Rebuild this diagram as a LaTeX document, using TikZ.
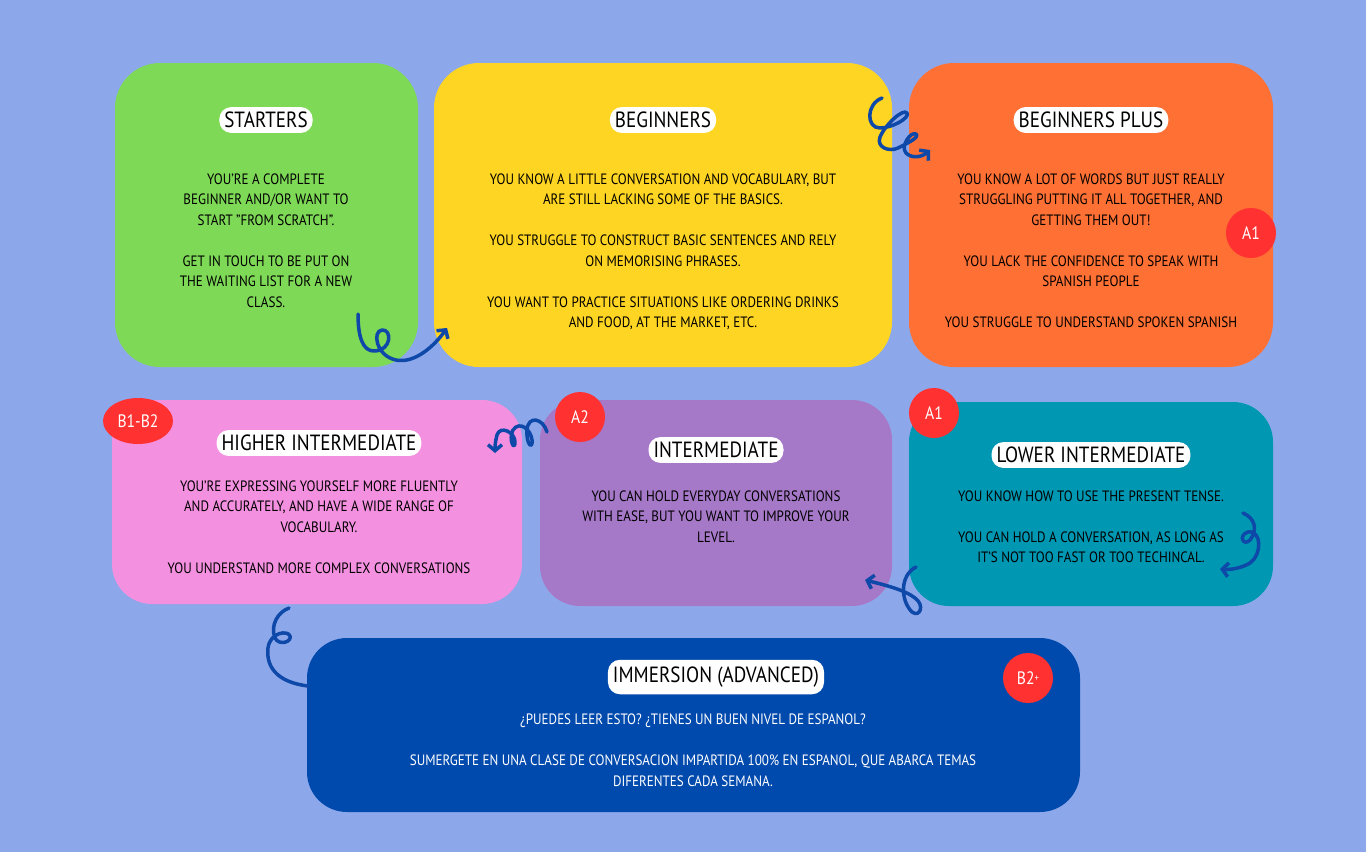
\documentclass[tikz,border=0pt]{standalone}
\usepackage{fontspec}
\setmainfont{PT Sans}[FakeStretch=0.87]
\usepackage{tikz}
\usetikzlibrary{shapes.geometric, arrows.meta, positioning}
\definecolor{pagebg}{RGB}{141,168,234}
\definecolor{startgreen}{RGB}{126,217,87}
\definecolor{beginyellow}{RGB}{255,213,35}
\definecolor{plusorange}{RGB}{255,112,52}
\definecolor{higherpink}{RGB}{244,144,224}
\definecolor{interpurple}{RGB}{166,120,200}
\definecolor{lowerteal}{RGB}{0,151,178}
\definecolor{immersionblue}{RGB}{0,74,173}
\definecolor{badgered}{RGB}{255,49,49}
\definecolor{curlblue}{RGB}{14,72,168}
\tikzstyle{card} = [rectangle, rounded corners=45pt, draw=none]
\tikzstyle{heading} = [rectangle, rounded corners=12pt, fill=white, text=black, inner xsep=5pt, inner ysep=5pt, font=\fontsize{22}{24}\selectfont]
\tikzstyle{blurb} = [align=center, inner sep=0pt, font=\fontsize{15}{20.5}\selectfont]
\tikzstyle{badge} = [circle, fill=badgered, text=white, minimum size=50pt, inner sep=0pt, font=\fontsize{18}{18}\selectfont]
\tikzstyle{curl} = [draw=curlblue, line width=3.5pt, line cap=round, line join=round]
\tikzstyle{arrow} = [curl, -{Straight Barb[length=6pt, width=14pt]}]

\begin{document}
\begin{tikzpicture}[x=1pt, y=-1pt]
    \useasboundingbox (0,0) rectangle (1366,852);
    \fill [pagebg] (0,0) rectangle (1366,852);

    % Cards
    \node (starters) [card, fill=startgreen, minimum width=303pt, minimum height=304pt] at (266.5,215) {};
    \node (beginners) [card, fill=beginyellow, minimum width=458pt, minimum height=304pt] at (663,215) {};
    \node (plus) [card, fill=plusorange, minimum width=364pt, minimum height=304pt] at (1091,215) {};
    \node (higher) [card, rounded corners=40pt, fill=higherpink, minimum width=410pt, minimum height=204pt] at (317,502) {};
    \node (inter) [card, rounded corners=40pt, fill=interpurple, minimum width=352pt, minimum height=206pt] at (716,503) {};
    \node (lower) [card, rounded corners=40pt, fill=lowerteal, minimum width=364pt, minimum height=204pt] at (1091,504) {};
    \node (immersion) [card, rounded corners=40pt, fill=immersionblue, minimum width=773pt, minimum height=174pt] at (693.5,725) {};

    % Titles
    \node (startersT) [heading] at (266,120) {STARTERS};
    \node (beginnersT) [heading] at (663,120) {BEGINNERS};
    \node (plusT) [heading] at (1091,120) {BEGINNERS PLUS};
    \node (higherT) [heading] at (319,443) {HIGHER INTERMEDIATE};
    \node (interT) [heading] at (716,450) {INTERMEDIATE};
    \node (lowerT) [heading] at (1091,455) {LOWER INTERMEDIATE};
    \node (immersionT) [heading, inner ysep=7pt] at (716,677) {IMMERSION (ADVANCED)};

    % Texts
    \node (startersB) [blurb, below=40pt of startersT] {YOU'RE A COMPLETE\\BEGINNER AND/OR WANT TO\\START "FROM SCRATCH".\\[20.5pt]GET IN TOUCH TO BE PUT ON\\THE WAITING LIST FOR A NEW\\CLASS.};
    \node (beginnersB) [blurb, below=40pt of beginnersT] {YOU KNOW A LITTLE CONVERSATION AND VOCABULARY, BUT\\ARE STILL LACKING SOME OF THE BASICS.\\[20.5pt]YOU STRUGGLE TO CONSTRUCT BASIC SENTENCES AND RELY\\ON MEMORISING PHRASES.\\[20.5pt]YOU WANT TO PRACTICE SITUATIONS LIKE ORDERING DRINKS\\AND FOOD, AT THE MARKET, ETC.};
    \node (plusB) [blurb, below=40pt of plusT] {YOU KNOW A LOT OF WORDS BUT JUST REALLY\\STRUGGLING PUTTING IT ALL TOGETHER, AND\\GETTING THEM OUT!\\[20.5pt]YOU LACK THE CONFIDENCE TO SPEAK WITH\\SPANISH PEOPLE\\[20.5pt]YOU STRUGGLE TO UNDERSTAND SPOKEN SPANISH};
    \node (higherB) [blurb, below=24pt of higherT] {YOU'RE EXPRESSING YOURSELF MORE FLUENTLY\\AND ACCURATELY, AND HAVE A WIDE RANGE OF\\VOCABULARY.\\[20.5pt]YOU UNDERSTAND MORE COMPLEX CONVERSATIONS};
    \node (interB) [blurb, below=27pt of interT] {YOU CAN HOLD EVERYDAY CONVERSATIONS\\WITH EASE, BUT YOU WANT TO IMPROVE YOUR\\LEVEL.};
    \node (lowerB) [blurb, below=22pt of lowerT] {YOU KNOW HOW TO USE THE PRESENT TENSE.\\[20.5pt]YOU CAN HOLD A CONVERSATION, AS LONG AS\\IT'S NOT TOO FAST OR TOO TECHINCAL.};
    \node (immersionB) [blurb, text=white, anchor=north] at (693,714) {¿PUEDES LEER ESTO? ¿TIENES UN BUEN NIVEL DE ESPANOL?\\[20.5pt]SUMERGETE EN UNA CLASE DE CONVERSACION IMPARTIDA 100\% EN ESPANOL, QUE ABARCA TEMAS\\DIFERENTES CADA SEMANA.};

    % Badges
    \node (plusL) [badge] at (1251,233) {A1};
    \node (higherL) [badge, ellipse, minimum width=70pt, minimum height=46pt] at (138,421) {B1-B2};
    \node (interL) [badge] at (580,417) {A2};
    \node (lowerL) [badge] at (934,413) {A1};
    \node (immersionL) [badge] at (1028,678) {B2\raisebox{3pt}{\fontsize{10}{10}\selectfont +}};

    % Curls
    \coordinate (c1s) at (358,314);
    \coordinate (c1e) at (447,328);
    \coordinate (c2s) at (882,98);
    \coordinate (c2e) at (930,150);
    \coordinate (c3s) at (916,567);
    \coordinate (c3e) at (865,580);
    \coordinate (c4s) at (547,432);
    \coordinate (c4e) at (495,453);
    \coordinate (c5s) at (289,608);
    \coordinate (c5e) at (308,686);
    \coordinate (c6s) at (1243,513);
    \coordinate (c6e) at (1220,569);
    \draw [arrow] (c1s) .. controls (358,335) and (362,352) .. (375,351)
        .. controls (392,350) and (392,329) .. (382,330)
        .. controls (372,331) and (376,356) .. (396,360)
        .. controls (415,364) and (435,345) .. (c1e);
    \draw [arrow] (c2s) .. controls (866,104) and (866,128) .. (880,128)
        .. controls (892,128) and (910,118) .. (907,113)
        .. controls (903,108) and (885,125) .. (880,137)
        .. controls (876,148) and (890,152) .. (898,148)
        .. controls (908,143) and (920,137) .. (916,134)
        .. controls (911,131) and (900,146) .. (906,153)
        .. controls (912,159) and (922,157) .. (c2e);
    \draw [arrow] (c3s) .. controls (900,575) and (900,600) .. (912,612)
        .. controls (920,618) and (925,605) .. (915,598)
        .. controls (905,590) and (885,585) .. (c3e);
    \draw [arrow] (c4s) .. controls (543,418) and (528,415) .. (527,430)
        .. controls (526,445) and (533,450) .. (532,440)
        .. controls (531,430) and (520,420) .. (513,430)
        .. controls (508,440) and (515,452) .. (515,442)
        .. controls (515,432) and (500,425) .. (497,435)
        .. controls (495,442) and (495,448) .. (c4e);
    \draw [curl] (c5s) .. controls (278,612) and (270,625) .. (275,638)
        .. controls (279,646) and (292,642) .. (290,636)
        .. controls (288,630) and (270,632) .. (268,648)
        .. controls (266,665) and (275,682) .. (c5e);
    \draw [arrow] (c6s) .. controls (1255,518) and (1258,530) .. (1250,540)
        .. controls (1243,547) and (1238,535) .. (1248,532)
        .. controls (1262,530) and (1262,555) .. (1250,563)
        .. controls (1242,568) and (1230,570) .. (c6e);
\end{tikzpicture}
\end{document}
